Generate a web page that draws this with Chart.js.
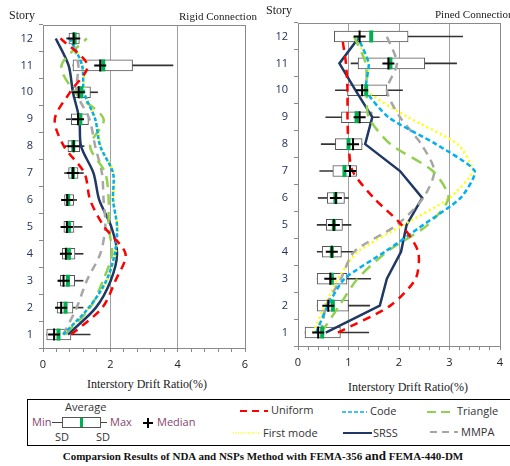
<!DOCTYPE html>
<html>
<head>
<meta charset="utf-8">
<script src="https://cdn.jsdelivr.net/npm/chart.js@4.4.1/dist/chart.umd.min.js"></script>
<style>
  body { margin: 0; background: #fff; }
  #wrap { position: relative; width: 510px; height: 466px; overflow: hidden; }
  canvas { position: absolute; top: 0; }
  .lbl { position: absolute; font-family: 'Liberation Serif', serif; font-size: 12px; color: #222; white-space: nowrap; }
  .conn { font-size: 11px; }
  #title { position: absolute; left: 0; width: 526px; top: 448px; text-align: center; font-family: 'Liberation Serif', serif; font-weight: bold; font-size: 11px; color: #111; white-space: nowrap; }
  #title span { font-size: 13px; }
  #legend { position: absolute; left: 0; top: 390px; }
</style>
</head>
<body>
<div id="wrap">
  <canvas id="chart-rigid" width="255" height="372" style="left:0"></canvas>
  <canvas id="chart-pined" width="255" height="370" style="left:255px"></canvas>

  <div class="lbl" style="left:9px;top:8px">Story</div>
  <div class="lbl conn" style="left:179px;top:10px">Rigid Connection</div>
  <div class="lbl" style="left:266px;top:3px">Story</div>
  <div class="lbl conn" style="left:435px;top:8px">Pined Connection</div>
  <div class="lbl" style="left:87px;top:377px">Interstory Drift Ratio(%)</div>
  <div class="lbl" style="left:348px;top:380px">Interstory Drift Ratio(%)</div>

  <svg id="legend" width="510" height="60" font-family="'Open Sans', sans-serif" font-size="11">
    <rect x="27.5" y="9.5" width="500" height="46" fill="none" stroke="#000" stroke-width="1"/>
    <text x="65" y="21" fill="#333">Average</text>
    <text x="32" y="36" fill="#86466e">Min</text>
    <line x1="52" y1="32.5" x2="62" y2="32.5" stroke="#444"/>
    <rect x="62.5" y="27.5" width="38" height="10" fill="#fff" stroke="#555"/>
    <line x1="101" y1="32.5" x2="107" y2="32.5" stroke="#444"/>
    <rect x="80" y="28" width="3" height="9" fill="#00b050"/>
    <text x="110" y="36" fill="#86466e">Max</text>
    <line x1="143" y1="33" x2="153" y2="33" stroke="#000" stroke-width="2"/>
    <line x1="148" y1="28" x2="148" y2="38" stroke="#000" stroke-width="2"/>
    <text x="157" y="36" fill="#86466e">Median</text>
    <text x="55" y="51" fill="#333">SD</text>
    <text x="96" y="51" fill="#333">SD</text>

    <line x1="240" y1="21" x2="268" y2="21" stroke="#ff0000" stroke-width="2" stroke-dasharray="7,5"/>
    <text x="271" y="24" fill="#333">Uniform</text>
    <line x1="342" y1="22" x2="367" y2="22" stroke="#00b0f0" stroke-width="1.5" stroke-dasharray="4,2"/>
    <text x="370" y="25" fill="#333">Code</text>
    <line x1="427" y1="22" x2="455" y2="22" stroke="#92d050" stroke-width="2" stroke-dasharray="9,5"/>
    <text x="457" y="25" fill="#333">Triangle</text>
    <line x1="233" y1="43" x2="260" y2="43" stroke="#ffff00" stroke-width="1.5" stroke-dasharray="1,1.5"/>
    <text x="263" y="47" fill="#333">First mode</text>
    <line x1="343" y1="43" x2="372" y2="43" stroke="#1f3864" stroke-width="2"/>
    <text x="373" y="47" fill="#333">SRSS</text>
    <line x1="430" y1="42" x2="458" y2="42" stroke="#a6a6a6" stroke-width="2" stroke-dasharray="7,5"/>
    <text x="461" y="46" fill="#333">MMPA</text>
  </svg>

  <div id="title">Comparsion Results of NDA and NSPs Method with FEMA-356 <span>and</span> FEMA-440-DM</div>
</div>

<script>
// stories, bottom to top
const stories = ['1', '2', '3', '4', '5', '6', '7', '8', '9', '10', '11', '12'];

// ---- Rigid connection: box plots (NDA) ----
const rigidMin    = [0.11, 0.38, 0.46, 0.53, 0.53, 0.55, 0.64, 0.66, 0.69, 0.85, 0.89, 0.70];
const rigidSdLow  = [0.11, 0.42, 0.51, 0.57, 0.62, 0.64, 0.76, 0.74, 0.84, 0.89, 0.89, 0.77];
const rigidSdHigh = [0.83, 0.89, 0.94, 0.95, 0.92, 0.91, 1.04, 1.09, 1.35, 1.41, 2.66, 1.08];
const rigidMax    = [1.40, 1.19, 1.19, 1.19, 1.16, 1.00, 1.20, 1.22, 1.35, 1.62, 3.86, 1.10];
const rigidAvg    = [0.46, 0.67, 0.74, 0.77, 0.77, 0.75, 0.89, 0.90, 1.11, 1.14, 1.79, 0.94];
const rigidMedian = [0.33, 0.54, 0.61, 0.68, 0.71, 0.72, 0.89, 0.91, 1.04, 1.06, 1.70, 0.91];

// ---- Rigid connection: NSP curves ----
const rigidUniform  = [0.84, 1.76, 2.15, 2.45, 1.82, 1.40, 1.23, 0.62, 0.35, 0.80, 1.32, 0.52];
const rigidCode     = [0.60, 1.36, 1.88, 2.13, 2.20, 2.08, 2.08, 1.70, 1.55, 1.22, 1.16, 0.80];
const rigidTriangle = [0.66, 1.40, 1.78, 2.05, 1.95, 1.95, 1.85, 1.40, 1.80, 0.95, 0.55, 1.30];
const rigidFirst    = [0.60, 1.38, 1.90, 2.15, 2.22, 2.10, 2.10, 1.72, 1.57, 1.24, 1.18, 0.82];
const rigidSrss     = [0.74, 1.57, 2.01, 2.20, 2.03, 1.67, 1.50, 1.13, 1.08, 0.89, 0.76, 0.38];
const rigidMmpa     = [0.60, 1.00, 1.30, 1.70, 1.85, 1.80, 1.75, 1.55, 1.38, 1.00, 1.05, 0.85];

// ---- Pined connection: box plots (NDA) ----
const pinedMin    = [0.14, 0.38, 0.38, 0.38, 0.38, 0.40, 0.43, 0.46, 0.55, 0.74, 1.05, 0.72];
const pinedSdLow  = [0.14, 0.38, 0.38, 0.48, 0.56, 0.58, 0.69, 0.74, 0.86, 0.98, 1.19, 0.72];
const pinedSdHigh = [0.84, 1.00, 0.97, 0.86, 0.88, 0.92, 1.16, 1.27, 1.47, 1.76, 2.51, 2.18];
const pinedMax    = [1.40, 1.42, 1.44, 1.12, 1.05, 1.00, 1.16, 1.27, 1.61, 2.07, 3.14, 3.26];
const pinedAvg    = [0.48, 0.69, 0.67, 0.67, 0.71, 0.74, 0.92, 1.00, 1.16, 1.35, 1.83, 1.45];
const pinedMedian = [0.40, 0.60, 0.64, 0.67, 0.71, 0.75, 1.03, 1.09, 1.22, 1.27, 1.79, 1.22];

// ---- Pined connection: NSP curves ----
const pinedUniform  = [0.79, 1.83, 2.33, 2.38, 2.05, 1.50, 1.08, 1.00, 0.98, 0.98, 0.95, 0.87];
const pinedCode     = [0.36, 0.59, 0.92, 1.72, 2.48, 3.22, 3.50, 2.73, 1.79, 1.35, 1.40, 1.18];
const pinedTriangle = [0.46, 0.82, 1.18, 1.76, 2.57, 2.98, 2.67, 1.83, 1.40, 1.36, 1.34, 1.11];
const pinedFirst    = [0.30, 0.53, 0.79, 1.18, 2.09, 3.00, 3.46, 3.16, 2.18, 1.37, 1.40, 1.11];
const pinedSrss     = [0.55, 1.62, 1.76, 2.04, 2.15, 2.46, 2.02, 1.33, 1.47, 1.14, 0.82, 1.22];
const pinedMmpa     = [0.46, 0.56, 0.85, 1.11, 1.96, 2.48, 2.70, 2.44, 2.02, 1.76, 1.96, 1.76];

// Outline the plot area (Excel style box)
const frame = {
  id: 'frame',
  afterDatasetsDraw(chart) {
    const a = chart.chartArea, ctx = chart.ctx;
    ctx.save();
    ctx.strokeStyle = '#8a8a8a';
    ctx.lineWidth = 1;
    ctx.strokeRect(Math.round(a.left) + 0.5, Math.round(a.top) + 0.5,
      Math.round(a.right - a.left), Math.round(a.bottom - a.top));
    ctx.restore();
  }
};

function boxDatasets(min, lo, hi, max, avg, med) {
  return [
    { type: 'bar', data: min.map((v, i) => [v, max[i]]), backgroundColor: '#333',
      barThickness: 1, grouped: false, order: 20 },
    { type: 'bar', data: lo.map((v, i) => [v, hi[i]]), backgroundColor: '#fff',
      borderColor: '#555', borderWidth: 1, borderSkipped: false,
      barThickness: 11, grouped: false, order: 19 },
    { type: 'line', data: avg, showLine: false, pointStyle: 'line', pointRotation: 90,
      pointRadius: 6, pointBorderColor: '#00b050', pointBorderWidth: 4, order: 1 },
    { type: 'line', data: med, showLine: false, pointStyle: 'cross',
      pointRadius: 6, pointBorderColor: '#000', pointBorderWidth: 2, order: 0 }
  ];
}

function curve(data, color, dash, width, tension) {
  return {
    type: 'line', data, borderColor: color, borderDash: dash, borderWidth: width,
    pointRadius: 0, tension, fill: false, order: 5
  };
}

function isMajor(v, step) {
  return Math.abs(v / step - Math.round(v / step)) < 1e-6;
}

function renderPanel(id, boxes, lines, xMax, minor, major, top) {
  const canvas = document.getElementById(id);
  const ctx = canvas.getContext('2d');
  return new Chart(ctx, {
    type: 'bar',
    data: {
      labels: stories,
      datasets: [...boxes, ...lines].map(d => ({ indexAxis: 'y', ...d }))
    },
    options: {
      indexAxis: 'y',
      responsive: false,
      animation: false,
      devicePixelRatio: 1,
      layout: { padding: { top, right: 7, left: 0, bottom: 0 } },
      plugins: {
        legend: { display: false },
        tooltip: { enabled: false }
      },
      scales: {
        x: {
          type: 'linear',
          min: 0,
          max: xMax,
          afterFit: (axis) => { axis.height = 24; },
          border: { color: '#8a8a8a' },
          grid: {
            color: (c) => (c.tick && isMajor(c.tick.value, major) ? '#a0a0a0' : 'rgba(0,0,0,0)'),
            tickColor: '#8a8a8a',
            tickLength: 4
          },
          ticks: {
            stepSize: minor,
            autoSkip: false,
            maxRotation: 0,
            padding: 6,
            color: '#222',
            font: { family: 'Open Sans, sans-serif', size: 11 },
            callback: (v) => (isMajor(v, major) ? String(Math.round(v)) : '')
          }
        },
        y: {
          type: 'category',
          reverse: true,
          afterFit: (axis) => { axis.width = 43; },
          border: { color: '#8a8a8a' },
          grid: { offset: true, drawOnChartArea: false, tickLength: 4, tickColor: '#8a8a8a' },
          ticks: {
            padding: 6,
            color: '#26305a',
            font: { family: 'Open Sans, sans-serif', size: 11 }
          }
        }
      }
    },
    plugins: [frame]
  });
}

renderPanel('chart-rigid',
  boxDatasets(rigidMin, rigidSdLow, rigidSdHigh, rigidMax, rigidAvg, rigidMedian),
  [
    curve(rigidUniform, '#ff0000', [8, 6], 2.5, 0.3),
    curve(rigidCode, '#00b0f0', [4, 2], 2.5, 0.3),
    curve(rigidTriangle, '#92d050', [11, 7], 2.5, 0.3),
    curve(rigidMmpa, '#a6a6a6', [8, 6], 2.5, 0.3),
    curve(rigidFirst, '#ffff00', [2, 3], 2.5, 0.3),
    curve(rigidSrss, '#1f3864', [], 2.5, 0.3)
  ],
  6, 0.4, 2, 25);

renderPanel('chart-pined',
  boxDatasets(pinedMin, pinedSdLow, pinedSdHigh, pinedMax, pinedAvg, pinedMedian),
  [
    curve(pinedUniform, '#ff0000', [8, 6], 2.5, 0.25),
    curve(pinedCode, '#00b0f0', [5, 3], 2.5, 0.2),
    curve(pinedTriangle, '#92d050', [11, 7], 2.5, 0.25),
    curve(pinedMmpa, '#a6a6a6', [8, 6], 2.5, 0.25),
    curve(pinedFirst, '#ffff00', [2, 3], 2.5, 0.2),
    curve(pinedSrss, '#1f3864', [], 2.5, 0)
  ],
  4, 0.2, 1, 23);
</script>
</body>
</html>
